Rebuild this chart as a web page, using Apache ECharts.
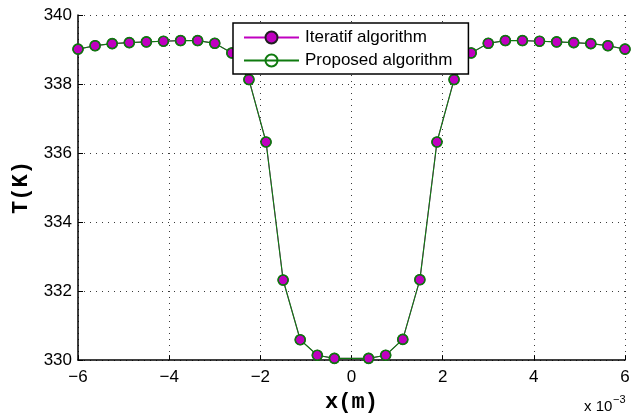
<!DOCTYPE html>
<html>
<head>
<meta charset="utf-8">
<script src="https://cdn.jsdelivr.net/npm/echarts@6/dist/echarts.min.js"></script>
<style>
  html, body { margin: 0; padding: 0; background: #ffffff; }
  #chart { width: 638px; height: 418px; }
</style>
</head>
<body>
<div id="chart"></div>
<script>
// Position along the domain, in units of 1e-3 m
const xPos = [
  -6, -5.625, -5.25, -4.875, -4.5, -4.125, -3.75, -3.375,
  -3, -2.625, -2.25, -1.875, -1.5, -1.125, -0.75, -0.375,
  0.375, 0.75, 1.125, 1.5, 1.875, 2.25, 2.625, 3,
  3.375, 3.75, 4.125, 4.5, 4.875, 5.25, 5.625, 6
];

// Temperature profiles (K)
const tempIteratif = [
  339.01, 339.11, 339.17, 339.20, 339.22, 339.24, 339.26, 339.26,
  339.18, 338.90, 338.13, 336.32, 332.32, 330.59, 330.14, 330.05,
  330.05, 330.14, 330.60, 332.33, 336.32, 338.13, 338.90, 339.18,
  339.26, 339.26, 339.24, 339.22, 339.20, 339.17, 339.11, 339.01
];
const tempProposed = [
  339.01, 339.11, 339.17, 339.20, 339.22, 339.24, 339.26, 339.26,
  339.18, 338.90, 338.13, 336.32, 332.32, 330.59, 330.14, 330.05,
  330.05, 330.14, 330.60, 332.33, 336.32, 338.13, 338.90, 339.18,
  339.26, 339.26, 339.24, 339.22, 339.20, 339.17, 339.11, 339.01
];

const seriesNames = ['Iteratif algorithm', 'Proposed algorithm'];
const xTicks = { min: -6, max: 6, step: 2 };
const yTicks = { min: 330, max: 340, step: 2 };

const SANS = "'Liberation Sans', Arial, Helvetica, sans-serif";
const MONO = "'Liberation Mono', 'Courier New', monospace";
const MAGENTA = '#c000c0';
const GREEN = '#0f7a0f';

const pairs = (xs, ys) => xs.map((x, i) => [x, ys[i]]);
const minusFmt = v => String(v).replace('-', '\u2212');

const dotted = { show: true, lineStyle: { color: '#3a3a3a', width: 1, type: [1, 5] } };

const chart = echarts.init(document.getElementById('chart'), null, { renderer: 'canvas' });
chart.setOption({
  animation: false,
  backgroundColor: '#ffffff',
  grid: { left: 78, right: 13, top: 15, bottom: 56, containLabel: false },
  xAxis: {
    type: 'value',
    min: xTicks.min, max: xTicks.max, interval: xTicks.step,
    name: 'x(m)',
    nameLocation: 'middle',
    nameGap: 25,
    nameTextStyle: { fontFamily: MONO, fontWeight: 'bold', fontSize: 22, color: '#000' },
    axisLine: { show: true, onZero: false, lineStyle: { color: '#000', width: 1.5 } },
    axisTick: { show: true, inside: true, length: 5, lineStyle: { color: '#000', width: 1 } },
    axisLabel: { margin: 9, fontFamily: SANS, fontSize: 17, color: '#000', formatter: minusFmt },
    splitLine: dotted
  },
  yAxis: {
    type: 'value',
    min: yTicks.min, max: yTicks.max, interval: yTicks.step,
    name: 'T(K)',
    nameLocation: 'middle',
    nameGap: 43,
    nameRotate: 90,
    nameTextStyle: { fontFamily: MONO, fontWeight: 'bold', fontSize: 22, color: '#000' },
    axisLine: { show: true, onZero: false, lineStyle: { color: '#000', width: 1.5 } },
    axisTick: { show: true, inside: true, length: 5, lineStyle: { color: '#000', width: 1 } },
    axisLabel: { margin: 6, fontFamily: SANS, fontSize: 17, color: '#000' },
    splitLine: dotted
  },
  legend: {
    orient: 'vertical',
    left: 233, top: 23,
    padding: [6, 16, 5, 10],
    itemGap: 6,
    itemWidth: 55,
    itemHeight: 15,
    backgroundColor: '#ffffff',
    borderColor: '#000',
    borderWidth: 1.5,
    borderRadius: 0,
    textStyle: { fontFamily: SANS, fontSize: 17, lineHeight: 17, color: '#000', padding: [0, 0, 0, 1] },
    data: seriesNames
  },
  graphic: [
    {
      type: 'text',
      left: 584, top: 399,
      style: { text: 'x 10', fontFamily: SANS, fontSize: 15, fill: '#000' }
    },
    {
      type: 'text',
      left: 613, top: 394,
      style: { text: '\u22123', fontFamily: SANS, fontSize: 11, fill: '#000' }
    }
  ],
  series: [
    {
      name: seriesNames[0],
      type: 'line',
      data: pairs(xPos, tempIteratif),
      symbol: 'circle',
      symbolSize: 10,
      showAllSymbol: true,
      lineStyle: { color: MAGENTA, width: 1 },
      itemStyle: { color: MAGENTA, borderColor: '#202020', borderWidth: 1.2 }
    },
    {
      name: seriesNames[1],
      type: 'line',
      data: pairs(xPos, tempProposed),
      symbol: 'circle',
      symbolSize: 10,
      showAllSymbol: true,
      lineStyle: { color: GREEN, width: 1.2 },
      itemStyle: { color: 'rgba(0,0,0,0)', borderColor: GREEN, borderWidth: 1.6 }
    }
  ]
});
</script>
</body>
</html>
